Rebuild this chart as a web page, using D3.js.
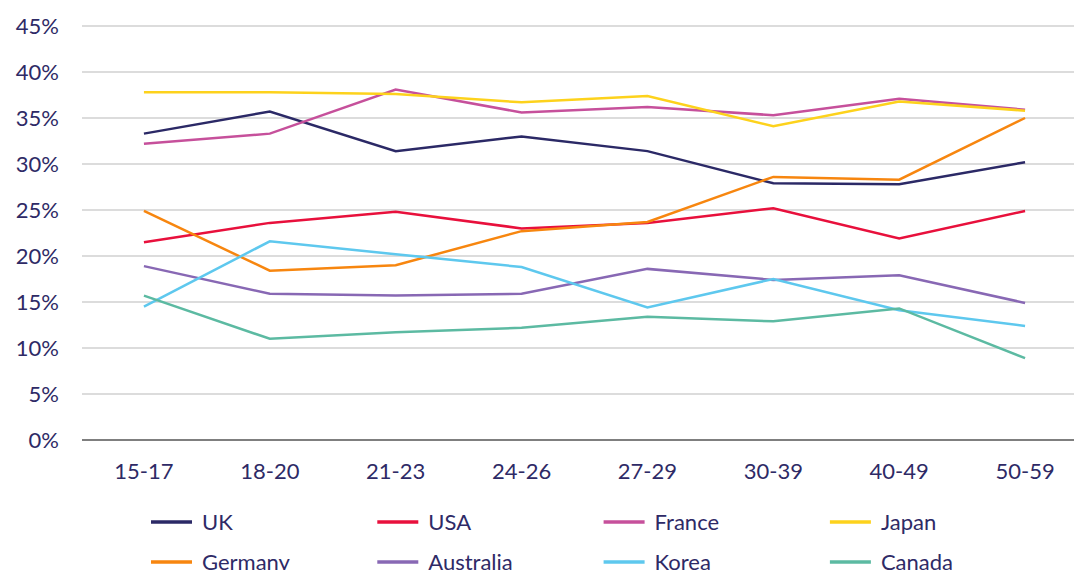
<!DOCTYPE html>
<html>
<head>
<meta charset="utf-8">
<script src="https://cdn.jsdelivr.net/npm/d3@7"></script>
<style>
  body { margin: 0; background: #fff; }
  svg text { font-family: Lato, "Noto Sans", sans-serif; fill: #2e2a66; }
</style>
</head>
<body>
<div id="chart"></div>
<script>
// age groups along the bottom
var ageGroups = ["15-17", "18-20", "21-23", "24-26", "27-29", "30-39", "40-49", "50-59"];
var yTicks = [0, 5, 10, 15, 20, 25, 30, 35, 40, 45];

// values in percent
var uk        = [33.3, 35.7, 31.4, 33.0, 31.4, 27.9, 27.8, 30.2];
var usa       = [21.5, 23.6, 24.8, 23.0, 23.6, 25.2, 21.9, 24.9];
var france    = [32.2, 33.3, 38.1, 35.6, 36.2, 35.3, 37.1, 35.9];
var japan     = [37.8, 37.8, 37.6, 36.7, 37.4, 34.1, 36.8, 35.8];
var germany   = [24.9, 18.4, 19.0, 22.7, 23.7, 28.6, 28.3, 35.0];
var australia = [18.9, 15.9, 15.7, 15.9, 18.6, 17.4, 17.9, 14.9];
var korea     = [14.5, 21.6, 20.2, 18.8, 14.4, 17.5, 14.1, 12.4];
var canada    = [15.7, 11.0, 11.7, 12.2, 13.4, 12.9, 14.3, 8.9];

var countries = ["UK", "USA", "France", "Japan", "Germany", "Australia", "Korea", "Canada"];
var colours = ["#2b2966", "#e8103c", "#c6509b", "#fdd21c", "#f7860f", "#8868b4", "#5ec8ee", "#5cbaa2"];

var series = [uk, usa, france, japan, germany, australia, korea, canada].map(function(v, i) {
  return { name: countries[i], colour: colours[i], values: v };
});

var width = 1074, height = 570;

var svg = d3.select("#chart").append("svg")
  .attr("width", width)
  .attr("height", height);

var x = d3.scaleBand()
  .domain(ageGroups)
  .range([81, 1088]);

var y = d3.scaleLinear()
  .domain([0, 45])
  .range([440, 26]);

// gridlines
svg.append("g")
  .selectAll("line")
  .data(yTicks.filter(function(d) { return d > 0; }))
  .enter().append("line")
  .attr("x1", 82).attr("x2", width)
  .attr("y1", function(d) { return y(d); })
  .attr("y2", function(d) { return y(d); })
  .style("stroke", "#dcdcdc")
  .style("stroke-width", 2);

// baseline
svg.append("line")
  .attr("x1", 82).attr("x2", width)
  .attr("y1", y(0)).attr("y2", y(0))
  .style("stroke", "#555")
  .style("stroke-width", 1.5);

// y labels
svg.append("g")
  .selectAll("text")
  .data(yTicks)
  .enter().append("text")
  .attr("x", 59)
  .attr("y", function(d) { return y(d); })
  .attr("dy", "0.35em")
  .attr("text-anchor", "end")
  .style("font-size", "22px")
  .text(function(d) { return d + "%"; });

// x labels
svg.append("g")
  .selectAll("text")
  .data(ageGroups)
  .enter().append("text")
  .attr("x", function(d) { return x(d) + x.bandwidth() / 2; })
  .attr("y", 479)
  .attr("text-anchor", "middle")
  .style("font-size", "22px")
  .text(function(d) { return d; });

var line = d3.line()
  .x(function(d, i) { return x(ageGroups[i]) + x.bandwidth() / 2; })
  .y(function(d) { return y(d); });

svg.append("g")
  .selectAll("path")
  .data(series)
  .enter().append("path")
  .attr("d", function(d) { return line(d.values); })
  .style("fill", "none")
  .style("stroke", function(d) { return d.colour; })
  .style("stroke-width", 2.5);

// legend, 4 columns x 2 rows
var legend = svg.append("g")
  .selectAll("g")
  .data(series)
  .enter().append("g")
  .attr("transform", function(d, i) {
    return "translate(" + (151 + (i % 4) * 226.3) + "," + (522 + Math.floor(i / 4) * 40) + ")";
  });

legend.append("line")
  .attr("x1", 0).attr("x2", 41)
  .attr("y1", 0).attr("y2", 0)
  .style("stroke", function(d) { return d.colour; })
  .style("stroke-width", 3.5);

legend.append("text")
  .attr("x", 51)
  .attr("y", 0)
  .attr("dy", "0.35em")
  .style("font-size", "22px")
  .text(function(d) { return d.name; });
</script>
</body>
</html>
